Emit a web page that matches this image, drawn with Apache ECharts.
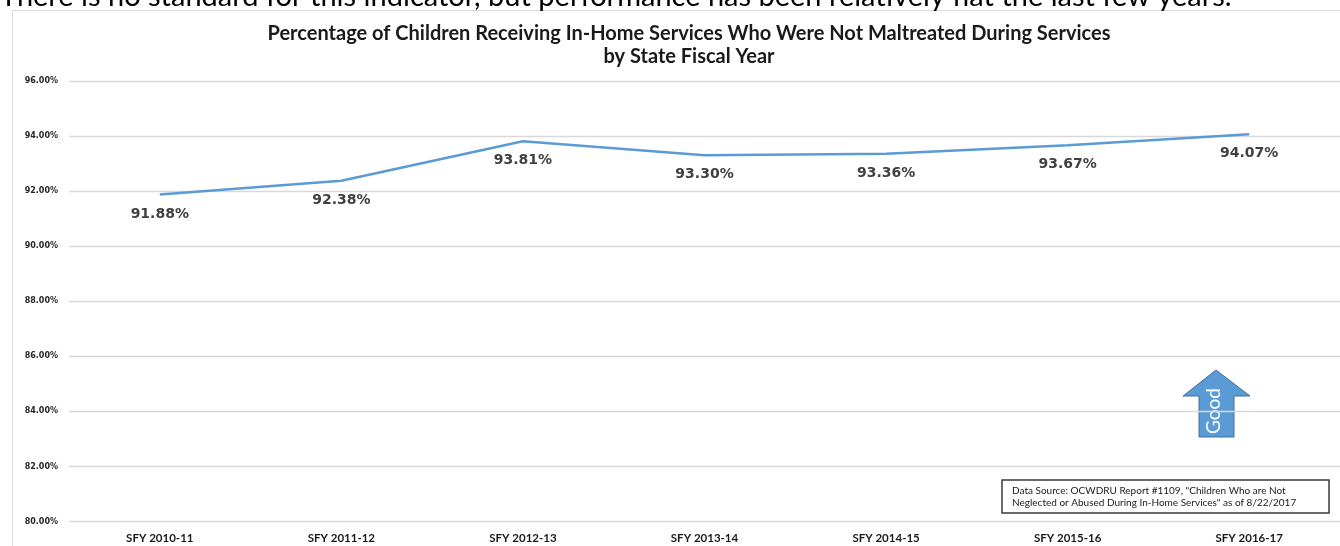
<!DOCTYPE html>
<html>
<head>
<meta charset="utf-8">
<script src="https://cdn.jsdelivr.net/npm/echarts@6/dist/echarts.min.js"></script>
<style>
html,body{margin:0;padding:0;background:#fff;}
#c{width:1340px;height:546px;}
</style>
</head>
<body>
<div id="c"></div>
<script>
var categories = ['SFY 2010-11','SFY 2011-12','SFY 2012-13','SFY 2013-14','SFY 2014-15','SFY 2015-16','SFY 2016-17'];
var values = [91.88, 92.38, 93.81, 93.30, 93.36, 93.67, 94.07];
var yTicks = {min: 80, max: 96, interval: 2};
var titleLines = ['Percentage of Children Receiving In-Home Services Who Were Not Maltreated During Services', 'by State Fiscal Year'];
var headerText = 'There is no standard for this indicator, but performance has been relatively flat the last few years.';
var sourceLines = ['Data Source: OCWDRU Report #1109, "Children Who are Not', 'Neglected or Abused During In-Home Services" as of 8/22/2017'];

var chart = echarts.init(document.getElementById('c'), null, {renderer: 'canvas'});
chart.setOption({
  backgroundColor: '#fff',
  animation: false,
  title: {
    text: titleLines.join('\n'),
    left: 684, top: 17, textAlign: 'center',
    textStyle: {fontFamily: 'Lato', fontWeight: 'bold', fontSize: 20, color: '#1a1a1a', lineHeight: 23}
  },
  grid: {left: 69, right: 0, top: 81, bottom: 24.5},
  xAxis: {
    type: 'category', data: categories, boundaryGap: true,
    axisLine: {show: false}, axisTick: {show: false},
    axisLabel: {margin: 11, fontFamily: 'Lato', fontWeight: 'bold', fontSize: 11.5, color: '#1a1a1a'}
  },
  yAxis: {
    type: 'value', min: yTicks.min, max: yTicks.max, interval: yTicks.interval,
    axisLine: {show: false}, axisTick: {show: false},
    splitLine: {lineStyle: {color: '#d9d9d9', width: 1.3}},
    axisLabel: {margin: 11, fontFamily: 'DejaVu Sans', fontWeight: 'bold', fontSize: 8, color: '#262626',
      formatter: function(v){ return v.toFixed(2) + '%'; }}
  },
  series: [{
    type: 'line', data: values, symbol: 'circle', symbolSize: 1, showSymbol: true,
    itemStyle: {color: 'rgba(0,0,0,0)'},
    lineStyle: {color: '#5b9bd5', width: 2.5},
    label: {show: true, position: 'bottom', distance: 12,
      fontFamily: 'DejaVu Sans', fontWeight: 'bold', fontSize: 14, color: '#404040',
      formatter: function(p){ return p.value.toFixed(2) + '%'; }}
  }],
  graphic: [
    {type: 'text', x: 0, y: 11, style: {text: headerText, font: '29px Lato', fill: '#000', verticalAlign: 'bottom'}},
    {type: 'rect', shape: {x: 12.5, y: 10.5, width: 1400, height: 600}, style: {fill: 'none', stroke: '#d9d9d9', lineWidth: 1}, z: -1},
    {type: 'polygon', shape: {points: [[1216,370],[1250,396],[1234,396],[1234,437],[1199,437],[1199,396],[1183,396]]},
      style: {fill: '#5b9bd5', stroke: '#41719c', lineWidth: 1}},
    {type: 'text', x: 1214, y: 411, rotation: Math.PI/2,
      style: {text: 'Good', font: '19px Lato', fill: '#fff', align: 'center', verticalAlign: 'middle'}},
    {type: 'rect', shape: {x: 1002, y: 480, width: 327, height: 33}, style: {fill: '#fff', stroke: '#3a3a3a', lineWidth: 1.5}},
    {type: 'text', x: 1012, y: 485, style: {text: sourceLines.join('\n'), font: '10px Lato', fill: '#1a1a1a', lineHeight: 12}}
  ]
});
</script>
</body>
</html>
